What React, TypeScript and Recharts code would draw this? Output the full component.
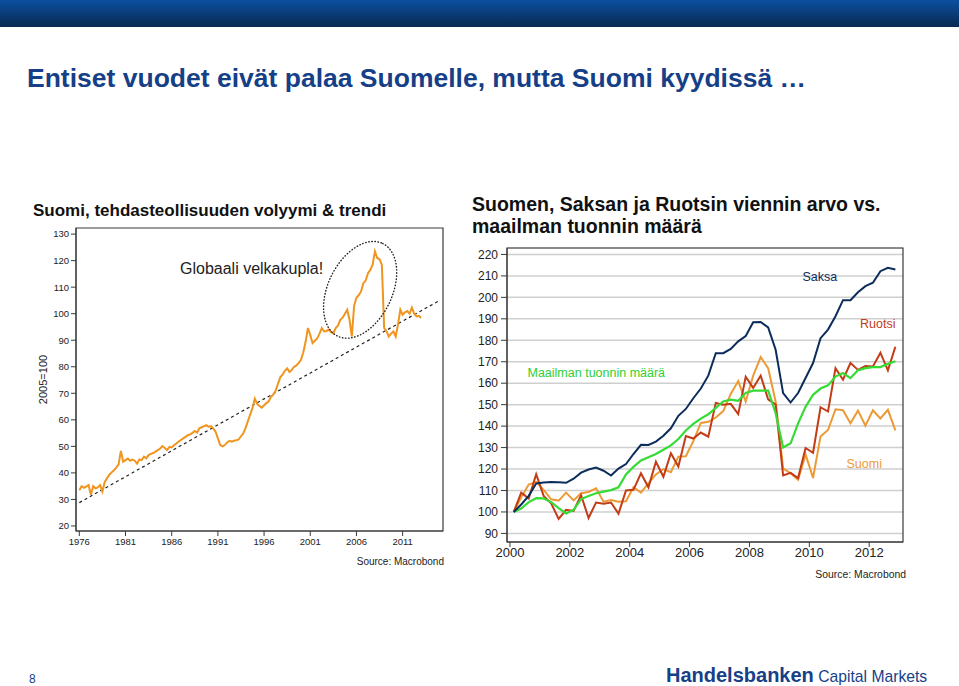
import {
  LineChart,
  Line,
  XAxis,
  YAxis,
  CartesianGrid,
  ReferenceArea,
  ReferenceDot,
} from "recharts";

const FONT = '"Liberation Sans", Arial, sans-serif';
const BLUE = "#163f88";
const INK = "#222";
const FRAME = "#3a3a3a";

// --- left chart: Finnish manufacturing volume, quarterly readings from 1976 ---
const VOLUME_START = 1976;
const VOLUME = [
  33.5, 35.0, 34.4, 34.8, 35.4, 31.8, 35.0, 34.2, 34.5, 35.4, 33.0, 36.6,
  38.0, 39.3, 40.2, 41.0, 42.0, 43.2, 48.3, 44.2, 44.8, 45.4, 44.6, 45.0,
  44.6, 43.5, 45.1, 44.8, 46.1, 45.5, 46.7, 47.2, 47.5, 48.0, 48.6, 49.2,
  50.1, 49.4, 48.6, 49.8, 49.6, 50.4, 51.1, 51.8, 52.4, 53.0, 53.6, 54.2,
  54.5, 55.1, 55.8, 55.2, 56.8, 57.2, 57.6, 58.0, 57.4, 57.6, 56.8, 55.5,
  53.0, 50.5, 50.0, 50.5, 51.5, 52.1, 51.8, 52.1, 52.3, 52.6, 53.8, 54.9,
  57.0, 59.5, 62.0, 64.5, 68.0, 66.0, 65.2, 64.6, 65.5, 66.3, 67.0, 68.7,
  69.5, 71.0, 73.5, 76.0, 77.0, 78.5, 79.4, 78.0, 78.8, 80.0, 80.5, 81.5,
  82.6, 85.5, 89.5, 94.6, 92.0, 88.9, 89.8, 90.7, 92.5, 94.6, 93.3, 93.5,
  94.0, 93.0, 92.6, 94.6, 95.5, 97.7, 98.5, 100.0, 101.5, 97.7, 91.4, 103.0,
  106.0, 107.0, 108.4, 111.5, 112.5, 115.3, 116.5, 118.5, 123.5, 121.0, 120.5, 118.5,
  94.6, 93.5, 91.4, 92.5, 93.3, 91.4, 96.0, 101.5, 99.6, 100.5, 101.0, 100.0,
  102.3, 100.0, 99.0, 99.2, 98.4,
];
const TREND_YEARS = [1976, 2015];
const TREND_VALUES = [28.8, 105.0];
const BUBBLE_AT = { year: 2006.4, value: 109 };
const VOLUME_X_DOMAIN = [1975.64, 2015.37];
const VOLUME_Y_DOMAIN = [18.1, 132.3];
const VOLUME_X_TICKS = [1976, 1981, 1986, 1991, 1996, 2001, 2006, 2011];
const VOLUME_Y_TICKS = [20, 30, 40, 50, 60, 70, 80, 90, 100, 110, 120, 130];

// --- right chart: export value vs world import volume, quarterly from 2000 ---
const EXPORT_START = 2000;
const SAKSA = [
  100, 103.5, 107.5, 113.3, 113.7, 114, 113.8, 113.6, 115.5, 118.3, 119.8, 120.7, 119.2,
  117, 120.2, 122.3, 127, 131.3, 131.2, 132.8, 135.5, 139, 144.8, 148, 153, 157.5,
  163.5, 174, 174, 176, 179.5, 182, 188.4, 188.5, 186, 175.6, 155.4, 151, 155.4,
  162.4, 169.4, 181, 185, 191.2, 198.7, 198.7, 202.4, 205.2, 206.8, 212.2, 213.8, 213,
];
const RUOTSI = [
  100, 109, 106.2, 117.6, 107.5, 104, 96.8, 101, 100.5, 107.8, 97.2, 104.4, 103.8,
  104.4, 99.2, 110, 110.3, 118, 111.5, 123.4, 116.4, 127.4, 121.2, 135.4, 134.2, 137,
  135.1, 150.8, 150, 150.4, 145.6, 163, 157.8, 163.5, 152.5, 150, 117, 118.2, 115.8,
  129.8, 127.6, 148.8, 146.8, 167, 161.6, 169.4, 166.2, 168, 167.8, 174.2, 166, 177,
];
const SUOMI = [
  100, 106.8, 112.8, 114, 110.3, 105.9, 105.3, 109, 105.4, 108.7, 109.3, 111, 104.8,
  105.6, 104.8, 105, 111.5, 109, 113.3, 117.5, 120, 118.5, 125.8, 126, 133, 141.5,
  142, 144, 147, 155, 161, 151.5, 163.5, 172.2, 167, 151.5, 120.3, 118, 115,
  126.8, 115.8, 135.2, 138.2, 147.8, 147.4, 141.3, 147.2, 140.2, 147.4, 143.6, 147.6, 138,
];
const MAAILMA = [
  100, 101.6, 104.6, 106.4, 106.3, 104.6, 101.8, 99.3, 101, 106, 107.4, 108.7, 109.5,
  110.2, 111.5, 117.5, 121, 124, 125.5, 127, 129, 131, 134, 138, 141, 143.5,
  145.5, 148.5, 151.5, 152.3, 151.8, 155.5, 156.5, 156.5, 156.5, 146, 130, 132, 141.3,
  149, 154.6, 157.5, 159, 163.1, 164.7, 162.4, 166, 167, 167.5, 167.5, 169, 170.2,
];
const EXPORT_X_DOMAIN = [1999.9, 2013.13];
const EXPORT_Y_DOMAIN = [86, 223];
const EXPORT_X_TICKS = [2000, 2002, 2004, 2006, 2008, 2010, 2012];
const EXPORT_Y_TICKS = [90, 100, 110, 120, 130, 140, 150, 160, 170, 180, 190, 200, 210, 220];

const volumeData = VOLUME.map((v, i) => ({ t: VOLUME_START + i / 4, v }));
const trendData = TREND_YEARS.map((t, i) => ({ t, trend: TREND_VALUES[i] }));
const exportData = SAKSA.map((s, i) => ({
  t: EXPORT_START + (i + 0.5) / 4,
  saksa: s,
  ruotsi: RUOTSI[i],
  suomi: SUOMI[i],
  maailma: MAAILMA[i],
}));

function BubbleEllipse(props: any) {
  const { cx, cy } = props;
  return (
    <ellipse
      cx={cx}
      cy={cy}
      rx={51.5}
      ry={32}
      transform={`rotate(-64 ${cx} ${cy})`}
      fill="none"
      stroke={INK}
      strokeWidth={1.4}
      strokeDasharray="0.5 2.6"
      strokeLinecap="round"
    />
  );
}

function VolumeChart() {
  const tick = { fontSize: 9.5, fill: INK };
  return (
    <LineChart width={460} height={340} margin={{ top: 8, right: 17, bottom: 4, left: 20 }}>
      <XAxis
        dataKey="t"
        type="number"
        domain={VOLUME_X_DOMAIN}
        ticks={VOLUME_X_TICKS}
        interval={0}
        allowDataOverflow
        height={25}
        tickSize={5}
        stroke={FRAME}
        tick={tick}
      />
      <YAxis
        type="number"
        domain={VOLUME_Y_DOMAIN}
        ticks={VOLUME_Y_TICKS}
        interval={0}
        allowDataOverflow
        width={56}
        tickSize={5}
        stroke={FRAME}
        tick={tick}
        label={{
          value: "2005=100",
          angle: -90,
          position: "insideLeft",
          offset: 23,
          style: { textAnchor: "middle", fontSize: 11, fill: INK },
        }}
      />
      <ReferenceArea
        x1={VOLUME_X_DOMAIN[0]}
        x2={VOLUME_X_DOMAIN[1]}
        y1={VOLUME_Y_DOMAIN[0]}
        y2={VOLUME_Y_DOMAIN[1]}
        fill="none"
        stroke={FRAME}
        strokeWidth={1.2}
        fillOpacity={0}
      />
      <Line
        data={trendData}
        dataKey="trend"
        stroke={INK}
        strokeWidth={1.2}
        strokeDasharray="3 3"
        dot={false}
        isAnimationActive={false}
      />
      <Line
        data={volumeData}
        dataKey="v"
        stroke="#f0951f"
        strokeWidth={2}
        dot={false}
        isAnimationActive={false}
      />
      <ReferenceDot x={BUBBLE_AT.year} y={BUBBLE_AT.value} r={0} shape={BubbleEllipse} />
    </LineChart>
  );
}

function ExportChart() {
  return (
    <LineChart
      width={450}
      height={330}
      data={exportData}
      margin={{ top: 8, right: 7, bottom: 4, left: 7 }}
    >
      <CartesianGrid vertical={false} stroke="#cfcfcf" strokeWidth={1.5} />
      <XAxis
        dataKey="t"
        type="number"
        domain={EXPORT_X_DOMAIN}
        ticks={EXPORT_X_TICKS}
        interval={0}
        allowDataOverflow
        height={24}
        tickSize={5}
        tickMargin={1}
        stroke={FRAME}
        tick={{ fontSize: 13, fill: INK }}
      />
      <YAxis
        type="number"
        domain={EXPORT_Y_DOMAIN}
        ticks={EXPORT_Y_TICKS}
        interval={0}
        allowDataOverflow
        width={40}
        tickSize={6}
        tickMargin={3}
        stroke={FRAME}
        tick={{ fontSize: 12, fill: INK }}
      />
      <ReferenceArea
        x1={EXPORT_X_DOMAIN[0]}
        x2={EXPORT_X_DOMAIN[1]}
        y1={EXPORT_Y_DOMAIN[0]}
        y2={EXPORT_Y_DOMAIN[1]}
        fill="none"
        fillOpacity={0}
        stroke={FRAME}
        strokeWidth={1.2}
      />
      <Line dataKey="suomi" stroke="#ec9a35" strokeWidth={2} dot={false} isAnimationActive={false} />
      <Line dataKey="ruotsi" stroke="#c23c16" strokeWidth={2} dot={false} isAnimationActive={false} />
      <Line dataKey="maailma" stroke="#35dc35" strokeWidth={2.2} dot={false} isAnimationActive={false} />
      <Line dataKey="saksa" stroke="#0c2d5b" strokeWidth={2} dot={false} isAnimationActive={false} />
    </LineChart>
  );
}

const abs = (left: number, top: number, extra: any = {}) => ({
  position: "absolute" as const,
  left,
  top,
  whiteSpace: "nowrap" as const,
  ...extra,
});

export default function App() {
  return (
    <div
      style={{
        position: "relative",
        width: 959,
        height: 686,
        overflow: "hidden",
        background: "#fff",
        fontFamily: FONT,
      }}
    >
      <style>{`body{margin:0}`}</style>
      <div
        style={abs(0, 0, {
          width: 959,
          height: 27,
          background: "linear-gradient(#0b4f9f, #082a50)",
        })}
      />
      <div style={abs(27, 62, { fontSize: 26.5, lineHeight: "32px", fontWeight: 700, color: BLUE })}>
        Entiset vuodet eivät palaa Suomelle, mutta Suomi kyydissä …
      </div>

      <div style={abs(33, 201, { fontSize: 17, lineHeight: "20px", fontWeight: 700, color: "#111" })}>
        Suomi, tehdasteollisuuden volyymi &amp; trendi
      </div>
      <div style={abs(0, 220)}>
        <VolumeChart />
      </div>
      <div style={abs(180, 259.5, { fontSize: 16, lineHeight: "18px", color: INK })}>
        Globaali velkakupla!
      </div>
      <div style={abs(0, 555.5, { width: 444, textAlign: "right", fontSize: 10, lineHeight: "12px", color: INK })}>
        Source: Macrobond
      </div>

      <div style={abs(472, 194, { fontSize: 19.5, lineHeight: "21.6px", fontWeight: 700, color: "#111" })}>
        Suomen, Saksan ja Ruotsin viennin arvo vs.
        <br />
        maailman tuonnin määrä
      </div>
      <div style={abs(460, 240)}>
        <ExportChart />
      </div>
      <div style={abs(802.5, 270, { fontSize: 12.5, lineHeight: "15px", color: "#0c2d5b" })}>Saksa</div>
      <div style={abs(860, 316.5, { fontSize: 12.5, lineHeight: "15px", color: "#c23c16" })}>Ruotsi</div>
      <div style={abs(846.5, 456.5, { fontSize: 12.5, lineHeight: "15px", color: "#ec9a35" })}>Suomi</div>
      <div style={abs(527.5, 365.5, { fontSize: 12.5, lineHeight: "15px", color: "#2fcf2f" })}>
        Maailman tuonnin määrä
      </div>
      <div style={abs(0, 568.5, { width: 906, textAlign: "right", fontSize: 10.4, lineHeight: "12px", color: INK })}>
        Source: Macrobond
      </div>

      <div style={abs(29, 672, { fontSize: 12, lineHeight: "14px", color: BLUE })}>8</div>
      <div style={abs(666, 664, { fontSize: 20, lineHeight: "22px", color: BLUE })}>
        <span style={{ fontWeight: 700 }}>Handelsbanken</span>
        <span style={{ fontSize: 15.7 }}> Capital Markets</span>
      </div>
    </div>
  );
}
